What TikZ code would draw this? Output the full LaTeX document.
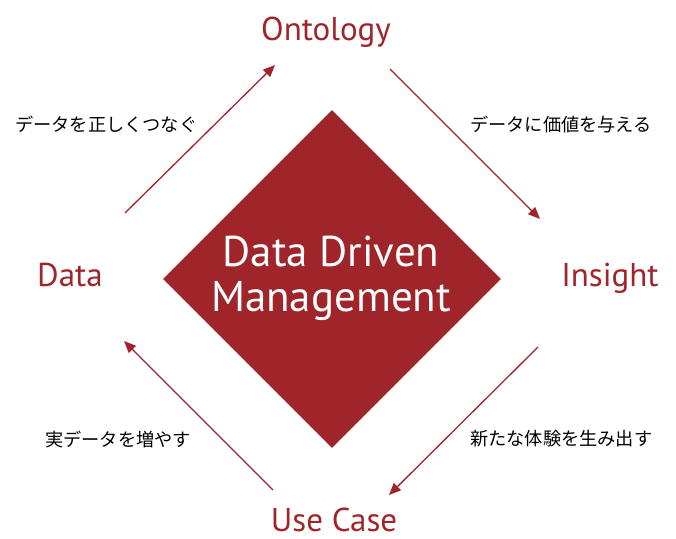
\documentclass[tikz,border=0pt]{standalone}
\usepackage{fontspec}
\setmainfont{PT Sans}
\newfontfamily\jpfont{Noto Sans CJK JP}
\usetikzlibrary{shapes.geometric,arrows.meta}
\definecolor{ddred}{HTML}{A0252B}
\tikzset{
	stage/.style={text=ddred,anchor=base,inner sep=0pt,font=\fontsize{33}{33}\selectfont},
	note/.style={anchor=west,inner sep=0pt,font=\jpfont\fontsize{18.2}{18}\selectfont},
	flow/.style={ddred,line width=1.3pt,-{Triangle[length=12pt,width=10pt]}},
}
\begin{document}
\begin{tikzpicture}[x=1pt,y=-1pt]
		\useasboundingbox (0,0) rectangle (676,538);
		\node[diamond,fill=ddred,minimum size=338pt,inner sep=0pt] (core) at (332,279) {};
		\node[text=white,anchor=base,font=\fontsize{43}{45}\selectfont] (coretop) at (331,266) {Data Driven};
		\node[text=white,anchor=base,font=\fontsize{43}{45}\selectfont] (corebot) at (331,311) {Management};
		\node[stage] (onto) at (326,40) {Ontology};
		\node[stage] (insight) at (610,286) {Insight};
		\node[stage] (usecase) at (334,531) {Use Case};
		\node[stage] (data) at (70,286) {Data};
		\coordinate (dataout) at (125,213);
		\coordinate (ontoin) at (275,65);
		\coordinate (ontoout) at (390,69);
		\coordinate (insightin) at (540,219);
		\coordinate (insightout) at (538,347);
		\coordinate (usecasein) at (389,495);
		\coordinate (usecaseout) at (273,490);
		\coordinate (datain) at (124,341);
		\draw[flow] (dataout) -- (ontoin);
		\draw[flow] (ontoout) -- (insightin);
		\draw[flow] (insightout) -- (usecasein);
		\draw[flow] (usecaseout) -- (datain);
		\node[note] (link) at (15,124) {データを正しくつなぐ};
		\node[note] (value) at (470,124) {データに価値を与える};
		\node[note] (grow) at (45,439) {実データを増やす};
		\node[note] (create) at (470,439) {新たな体験を生み出す};
	\end{tikzpicture}
\end{document}
